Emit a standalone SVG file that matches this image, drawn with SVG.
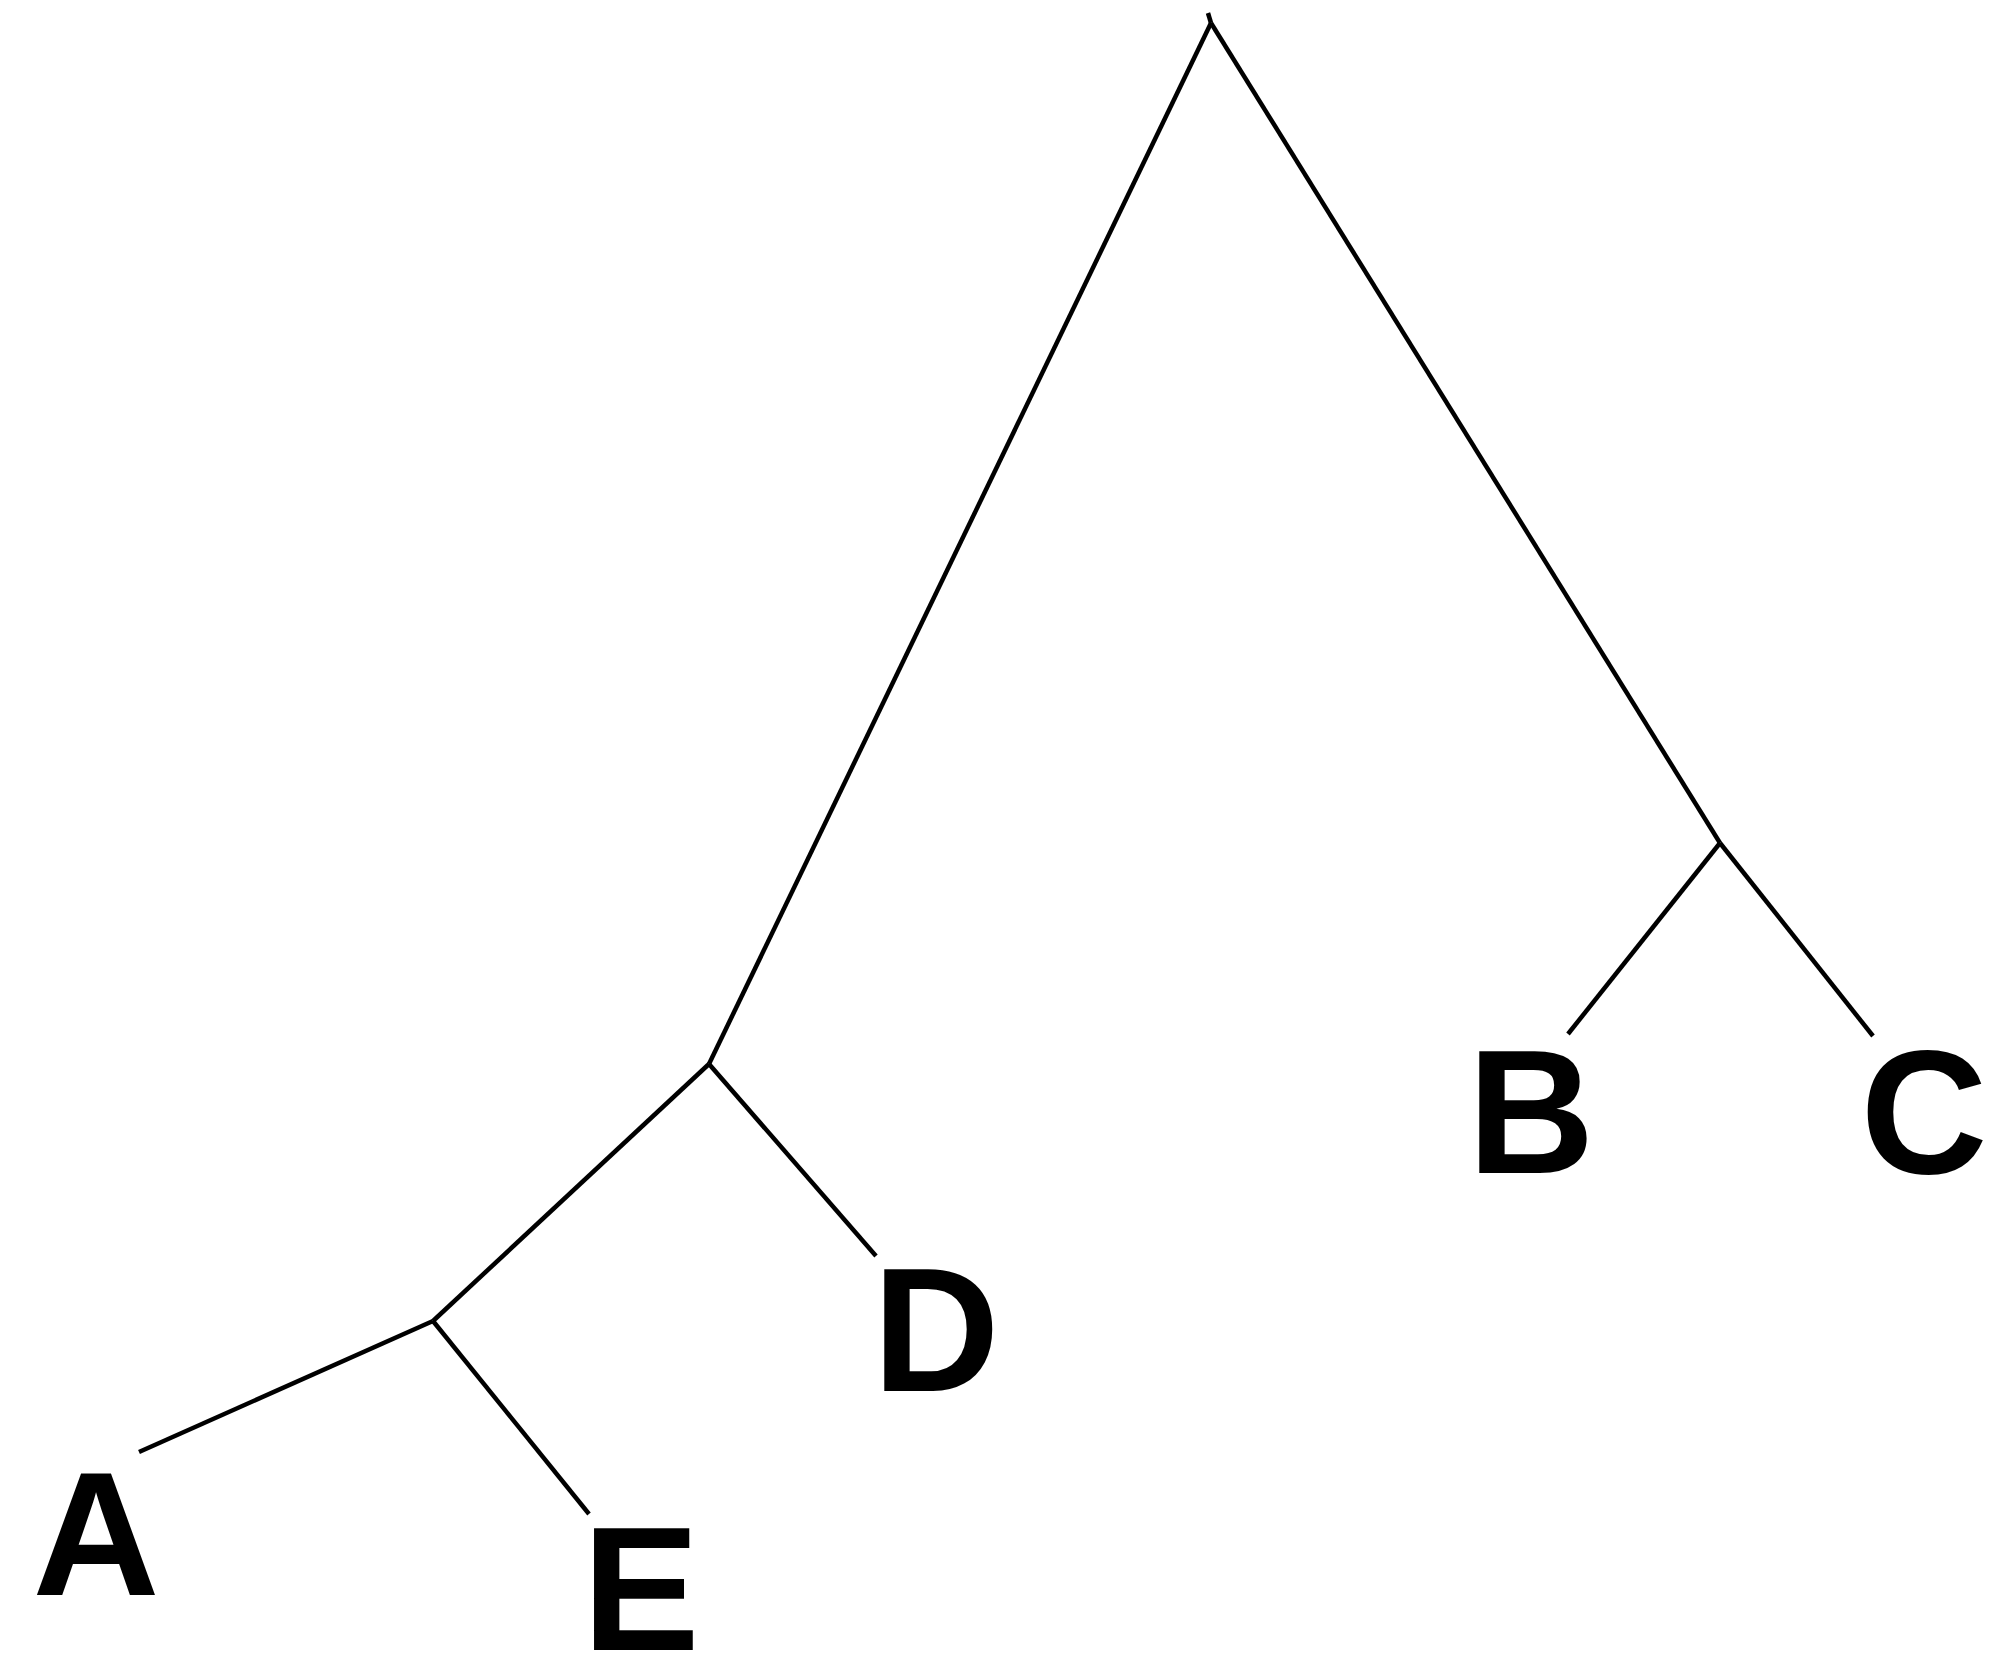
<svg xmlns="http://www.w3.org/2000/svg" width="2003" height="1657" viewBox="0 0 2003 1657">
<style>
.edge{stroke:#000;stroke-width:4.5;fill:none;stroke-linecap:butt}
.lbl{font-family:"Liberation Sans",Arial,sans-serif;font-weight:bold;font-size:176px;fill:#000;text-anchor:middle}
</style>
<rect width="2003" height="1657" fill="#fff"/>
<g id="connectors">
<line class="edge" x1="1208" y1="13" x2="1211" y2="23"/>
<line class="edge" x1="1211" y1="23" x2="709" y2="1064"/>
<line class="edge" x1="1211" y1="23" x2="1720" y2="843"/>
<line class="edge" x1="709" y1="1064" x2="433" y2="1321"/>
<line class="edge" x1="709" y1="1064" x2="876" y2="1256"/>
<line class="edge" x1="433" y1="1321" x2="139" y2="1452"/>
<line class="edge" x1="433" y1="1321" x2="589" y2="1514"/>
<line class="edge" x1="1720" y1="843" x2="1568" y2="1034"/>
<line class="edge" x1="1720" y1="843" x2="1873" y2="1036"/>
</g>
<g id="node-A"><text class="lbl" x="96" y="1595">A</text></g>
<g id="node-E"><text class="lbl" x="641" y="1650">E</text></g>
<g id="node-D"><text class="lbl" x="936" y="1391">D</text></g>
<g id="node-B"><text class="lbl" x="1531" y="1173">B</text></g>
<g id="node-C"><text class="lbl" x="1924" y="1173">C</text></g>
</svg>
